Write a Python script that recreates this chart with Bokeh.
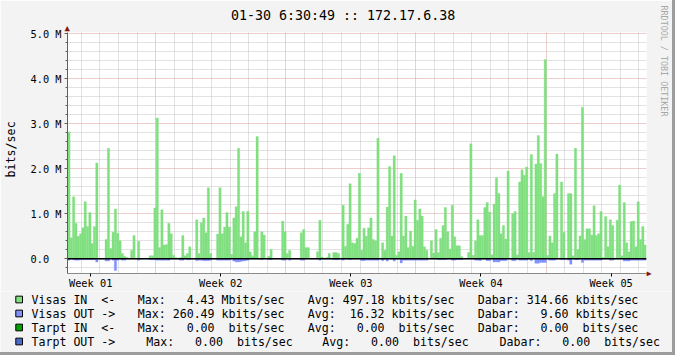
import numpy as np
from bokeh.plotting import figure
from bokeh.layouts import column, row
from bokeh.models import Range1d, FixedTicker, Span, Title
from bokeh.core.properties import value
from bokeh.embed import file_html
from bokeh.resources import INLINE

MONO = "DejaVu Sans Mono"
NB = "\u00a0"

def nb(s):
    return s.replace(" ", NB)

# ---------------- data ----------------
graph_title = "01-30 6:30:49 :: 172.17.6.38"
y_axis_title = "bits/sec"
watermark = "RRDTOOL / TOBI OETIKER"
period_start = np.datetime64("2009-12-30T06:30:49")
sample_hours = 3

# Visas IN, Mbit/s, one value per 3 hours
visas_in = [
    2.82, 0.47, 1.38, 0.79, 0.50, 0.56, 0.69, 1.27, 0.72, 1.03,
    0.34, 0.72, 2.13, 0, 0, 0, 0.43, 2.46, 0.23, 0.59,
    1.11, 0.57, 0.40, 0.12, 0.06, 0.03, 0, 0.19, 0.52, 0,
    0.39, 0, 0, 0, 0, 0.07, 0.07, 1.13, 3.13, 0.25,
    1.09, 0.31, 0.32, 0.79, 0.56, 0.08, 0.03, 0, 0.03, 0.52,
    0.07, 0.12, 0.27, 0, 0, 0.87, 0.12, 0.80, 0.91, 0.58,
    1.58, 0.12, 0, 0, 0.55, 1.58, 0.56, 0.71, 1.03, 0.71,
    0.10, 0.91, 1.16, 2.46, 0.49, 1.05, 0.36, 1.06, 0.16, 0.07,
    0.60, 2.72, 0, 0.60, 0.53, 0, 0.06, 0.21, 0, 0,
    0, 0, 0.84, 0.60, 0.12, 0.19, 0, 0, 0, 0,
    0.58, 0.65, 0.25, 0.25, 0, 0, 0, 0.16, 0.86, 0.04,
    0, 0.03, 0.12, 0, 0.14, 0.14, 0.12, 0, 1.19, 0.28,
    0.77, 1.67, 0.36, 0.34, 0.46, 1.90, 0.19, 0.68, 0.50, 0.69,
    0.91, 0.43, 0.40, 2.68, 0, 0.36, 0.19, 1.15, 2.05, 0.51,
    2.29, 0.08, 0.16, 1.90, 0.51, 0.95, 0.25, 0.62, 0.28, 1.31,
    0.86, 1.11, 0.95, 0.27, 0.19, 0, 0.40, 0.13, 0.65, 0.14,
    0.46, 0.74, 1.14, 0.60, 0.22, 1.19, 0.49, 0.29, 0.29, 0.05,
    0, 0, 0.14, 2.56, 0.08, 0.40, 0.87, 0.52, 0.52, 1.14,
    1.25, 1.04, 0.09, 1.22, 1.80, 1.45, 0.56, 0.74, 0.44, 1.95,
    0, 1.00, 1.05, 0.09, 1.71, 1.98, 1.86, 2.04, 0.14, 2.32,
    0.14, 2.11, 2.74, 2.12, 1.38, 4.43, 0.08, 0.51, 0.36, 1.45,
    2.33, 0.01, 1.71, 0.59, 0, 1.45, 1.45, 0.07, 2.46, 0.21,
    0.51, 3.37, 0.43, 0.67, 0.67, 0.53, 1.18, 0.52, 0.56, 1.05,
    0.03, 0.94, 0.27, 0.87, 0.74, 0, 0.86, 1.64, 0.07, 1.25,
    0.36, 0.16, 0.83, 0.84, 0.27, 1.27, 0.43, 0.72, 0.31,
]

# Visas OUT, Mbit/s (drawn below zero)
visas_out = [
    0.03, 0, 0.02, 0.03, 0.03, 0.02, 0.02, 0.02, 0.02, 0.02,
    0.02, 0.02, 0.07, 0, 0, 0, 0.05, 0.05, 0, 0.03,
    0.26, 0.03, 0, 0.03, 0.03, 0, 0, 0, 0, 0,
    0.03, 0, 0, 0, 0, 0.02, 0.02, 0.02, 0.03, 0.03,
    0.03, 0.03, 0.03, 0.03, 0, 0, 0, 0, 0.03, 0.03,
    0, 0.02, 0.02, 0, 0, 0.04, 0.03, 0.03, 0.04, 0.04,
    0.04, 0.03, 0, 0, 0.03, 0.03, 0.03, 0.03, 0.03, 0.03,
    0, 0.05, 0.07, 0.07, 0.06, 0.05, 0.04, 0.03, 0, 0,
    0, 0, 0, 0.02, 0, 0, 0.02, 0.02, 0, 0,
    0, 0, 0.03, 0.03, 0, 0.03, 0, 0, 0, 0,
    0.03, 0.03, 0, 0, 0, 0, 0, 0, 0.03, 0,
    0, 0, 0, 0, 0.02, 0.02, 0.02, 0, 0.03, 0,
    0, 0.02, 0, 0, 0, 0, 0.04, 0.04, 0.03, 0.03,
    0.03, 0.03, 0.03, 0.03, 0, 0.04, 0, 0.05, 0, 0,
    0.05, 0, 0, 0.09, 0.03, 0.03, 0.03, 0.03, 0.03, 0.03,
    0.03, 0.03, 0.03, 0.03, 0.03, 0, 0, 0, 0, 0.02,
    0.02, 0.02, 0.02, 0, 0, 0.03, 0.03, 0.02, 0.02, 0.02,
    0, 0, 0, 0, 0, 0.03, 0.03, 0.04, 0, 0,
    0.04, 0.04, 0, 0.07, 0.07, 0.07, 0.04, 0.04, 0.04, 0,
    0, 0.04, 0.04, 0, 0.03, 0.03, 0.03, 0.03, 0, 0.04,
    0, 0.10, 0.10, 0.08, 0.08, 0.08, 0, 0.03, 0.03, 0.03,
    0, 0, 0.02, 0.02, 0, 0.03, 0.12, 0, 0.02, 0.02,
    0, 0.08, 0.03, 0.03, 0.03, 0.03, 0.03, 0.03, 0.03, 0.03,
    0, 0, 0, 0.03, 0.03, 0, 0, 0, 0, 0.05,
    0.05, 0.05, 0.03, 0.03, 0.03, 0.03, 0.03, 0.03, 0.03,
]

week_names = ["Week 01", "Week 02", "Week 03", "Week 04", "Week 05"]
week_mondays = ["2009-12-28", "2010-01-04", "2010-01-11", "2010-01-18", "2010-01-25"]

y_major = [0.0, 1.0, 2.0, 3.0, 4.0, 5.0]
y_major_labels = ["0.0", "1.0 M", "2.0 M", "3.0 M", "4.0 M", "5.0 M"]

legend_names = ["Visas IN  <-", "Visas OUT ->", "Tarpt IN  <-", "Tarpt OUT ->"]
legend_colors = ["#80e080", "#8090ff", "#00a000", "#4a6ac8"]
max_texts = ["Max:   4.43 Mbits/sec", "Max: 260.49 kbits/sec",
             "Max:   0.00  bits/sec", "Max:   0.00  bits/sec"]
avg_texts = ["Avg: 497.18 kbits/sec", "Avg:  16.32 kbits/sec",
             "Avg:   0.00  bits/sec", "Avg:   0.00  bits/sec"]
now_texts = ["Dabar: 314.66 kbits/sec", "Dabar:   9.60 kbits/sec",
             "Dabar:   0.00  bits/sec", "Dabar:   0.00  bits/sec"]

# ---------------- helpers ----------------
def days_since_start(t):
    return float((np.datetime64(t) - period_start) / np.timedelta64(1, "s")) / 86400.0

step_days = sample_hours / 24.0
x_centers = [(i + 0.5) * step_days for i in range(len(visas_in))]
out_bottom = [-v for v in visas_out]

week_start_days = [days_since_start(m + "T00:00:00") for m in week_mondays]
week_label_days = [d + 3.5 for d in week_start_days]
all_midnights = np.arange(np.datetime64("2009-12-31"), np.datetime64("2010-01-31"),
                          dtype="datetime64[D]")
day_lines = [days_since_start(str(d) + "T00:00:00") for d in all_midnights]
day_lines = [d for d in day_lines if all(abs(d - w) > 1e-6 for w in week_start_days)]

y_minor = []
for i in range(-1, 26):
    v = round(i * 0.2, 1)
    if abs(v - round(v)) > 1e-9:
        y_minor.append(v)

# ---------------- layout constants (pixels) ----------------
SHADE_W = 3
CONTENT_W, CONTENT_H = 675 - SHADE_W, 355 - SHADE_W
MAIN_H = 291
PX_PER_DAY = 18.62
PX_PER_M = 45.2
FRAME_L, FRAME_R, FRAME_T, FRAME_B = 66, 646, 32, 274
ZERO_Y = 259.3
BG = "#f3f3f3"
SHADE = "#9c9c9c"
ARROW = "#8b1010"

x_lo = -0.3 / PX_PER_DAY
x_hi = x_lo + (FRAME_R - FRAME_L) / PX_PER_DAY
y_lo = -(FRAME_B - ZERO_Y) / PX_PER_M
y_hi = y_lo + (FRAME_B - FRAME_T) / PX_PER_M

# ---------------- main chart ----------------
p = figure(width=CONTENT_W, height=MAIN_H, output_backend="svg", toolbar_location=None,
           x_range=Range1d(x_lo, x_hi), y_range=Range1d(y_lo, y_hi),
           min_border_left=FRAME_L, min_border_right=CONTENT_W - FRAME_R,
           min_border_top=FRAME_T, min_border_bottom=MAIN_H - FRAME_B,
           background_fill_color="white", border_fill_color=BG,
           outline_line_color=None, title=None)

# arrow on top of the y axis, then the title
p.add_layout(Title(text="\u25B2", align="left", offset=-3.0, standoff=0,
                   text_font=MONO, text_font_size="9px", text_font_style="normal",
                   text_color=ARROW), "above")
p.add_layout(Title(text=graph_title, align="left", offset=163.5, standoff=-4,
                   text_font=MONO, text_font_size="13.3px", text_font_style="normal",
                   text_color="black"), "above")
# arrow at the end of the x axis, then the watermark (right side, read top to bottom)
p.add_layout(Title(text="\u25B2", align="right", offset=-2.7, standoff=-4,
                   text_font=MONO, text_font_size="8px", text_font_style="normal",
                   text_color=ARROW), "right")
p.add_layout(Title(text=nb(watermark), align="left", offset=5 - FRAME_T, standoff=6.5,
                   vertical_align="top",
                   text_font=MONO, text_font_size="8.4px", text_font_style="normal",
                   text_color="#a8a8a8"), "right")

yax = p.yaxis[0]
yax.ticker = FixedTicker(ticks=y_major, minor_ticks=y_minor)
yax.major_label_overrides = {v: nb(l if " " in l else l + "  ") for v, l in zip(y_major, y_major_labels)}
yax.major_label_text_font = MONO
yax.major_label_text_font_size = "10.3px"
yax.major_label_text_color = "black"
yax.major_label_standoff = 3
yax.axis_line_color = "#606060"
yax.major_tick_line_color = "#606060"
yax.minor_tick_line_color = "#606060"
yax.major_tick_out = 3
yax.major_tick_in = 0
yax.minor_tick_out = 2
yax.minor_tick_in = 0
yax.axis_label = NB + y_axis_title
yax.axis_label_text_font = MONO
yax.axis_label_text_font_size = "11.7px"
yax.axis_label_text_font_style = "normal"
yax.axis_label_text_color = "black"
yax.axis_label_standoff = 10

xax = p.xaxis[0]
xax.ticker = FixedTicker(ticks=week_label_days, minor_ticks=[])
xax.major_label_overrides = {v: nb(n) for v, n in zip(week_label_days, week_names)}
xax.major_label_text_font = MONO
xax.major_label_text_font_size = "10.3px"
xax.major_label_text_color = "black"
xax.major_label_standoff = 0
xax.axis_line_color = "#8a8a8a"
xax.major_tick_line_color = "black"
xax.major_tick_out = 3
xax.major_tick_in = 0
xax.minor_tick_line_color = None

MAJOR_GRID = "#dc9a9a"
MINOR_GRID = "#c4c4c4"
xg = p.xgrid[0]
xg.ticker = FixedTicker(ticks=week_start_days[1:], minor_ticks=day_lines)
xg.grid_line_color = MAJOR_GRID
xg.grid_line_dash = "1 1"
xg.minor_grid_line_color = MINOR_GRID
xg.minor_grid_line_dash = "1 1"
yg = p.ygrid[0]
yg.grid_line_color = MAJOR_GRID
yg.grid_line_dash = "1 1"
yg.minor_grid_line_color = MINOR_GRID
yg.minor_grid_line_dash = "1 1"

p.vbar(x=x_centers, width=step_days, top=visas_in, bottom=0,
       fill_color=legend_colors[0], line_color=legend_colors[0], line_width=0.3)
p.vbar(x=x_centers, width=step_days, top=0, bottom=out_bottom,
       fill_color=legend_colors[1], line_color=legend_colors[1], line_width=0.3)
p.add_layout(Span(location=0, dimension="width", line_color="black", line_width=1.5))

# ---------------- legend strip ----------------
LG_H = CONTENT_H - MAIN_H
lg = figure(width=CONTENT_W, height=LG_H, output_backend="svg", toolbar_location=None,
            x_range=Range1d(0, CONTENT_W), y_range=Range1d(CONTENT_H, MAIN_H),
            min_border=0, background_fill_color=BG, border_fill_color=BG,
            outline_line_color=None, title=None)
lg.axis.visible = False
lg.grid.visible = False

ROW_Y = [299, 313, 327, 341]
lg.rect(x=[18.65] * 4, y=ROW_Y, width=6.7, height=6.7,
        fill_color=legend_colors, line_color="black", line_width=1)

col_x = [(31, 137.3, 307.3, 477.3)] * 3 + [(31, 145.7, 321.7, 499)]
tx, ty, tt = [], [], []
for i in range(4):
    pieces = [legend_names[i], max_texts[i], avg_texts[i], now_texts[i]]
    for xpos, piece in zip(col_x[i], pieces):
        tx.append(xpos)
        ty.append(ROW_Y[i])
        tt.append(nb(piece))
lg.text(x=tx, y=ty, text=tt, text_font=value(MONO), text_font_size=value("11.6px"),
        text_color="black", text_align="left", text_baseline="middle")

shadow = f"{SHADE_W}px 0 0 0 {SHADE}, 0 {SHADE_W}px 0 0 {SHADE}, {SHADE_W}px {SHADE_W}px 0 0 {SHADE}"
layout = column(row(p, spacing=0), lg, spacing=0, styles={"box-shadow": shadow})
open("out.html", "w").write(file_html(layout, INLINE))
